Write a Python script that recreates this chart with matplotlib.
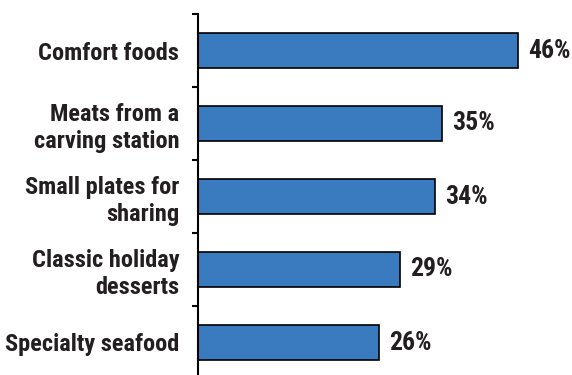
import matplotlib
matplotlib.use("Agg")
import matplotlib.pyplot as plt

# menu items and share of respondents (%)
items = [
    "Comfort foods",
    "Meats from a\ncarving station",
    "Small plates for\nsharing",
    "Classic holiday\ndesserts",
    "Specialty seafood",
]
shares = [46, 35, 34, 29, 26]

plt.rcParams["font.family"] = ["Roboto Condensed", "DejaVu Sans"]
plt.rcParams["font.weight"] = "bold"

text_color = "#231f20"
bar_color = "#3a7abf"

fig = plt.figure(figsize=(5.72, 3.75), dpi=100)
ax = fig.add_axes([198 / 572, -4 / 375, 374 / 572, 365 / 375])

pos = list(range(len(items)))
ax.barh(pos, shares, height=0.47, color=bar_color, edgecolor="black", linewidth=1.2)

# value labels just right of each bar
for p, v in zip(pos, shares):
    ax.text(v + 1.45, p, f"{v}%", va="center", ha="left", fontsize=18.5,
            color=text_color, fontweight="bold")

ax.set_xlim(0, 374 / 6.96)
ax.set_ylim(len(items) - 0.5, -0.5)

ax.set_yticks(pos)
ax.set_yticklabels(items, fontsize=17.6, color=text_color, fontweight="bold",
                   linespacing=1.2)
ax.tick_params(axis="y", which="major", length=0, pad=13.5)
ax.set_yticks([p - 0.5 for p in range(len(items) + 1)], minor=True)
ax.tick_params(axis="y", which="minor", length=4, width=1.5, direction="out")
ax.set_xticks([])

for side in ("top", "right", "bottom"):
    ax.spines[side].set_visible(False)
ax.spines["left"].set_linewidth(1.5)

fig.savefig("out.png", dpi=100)
